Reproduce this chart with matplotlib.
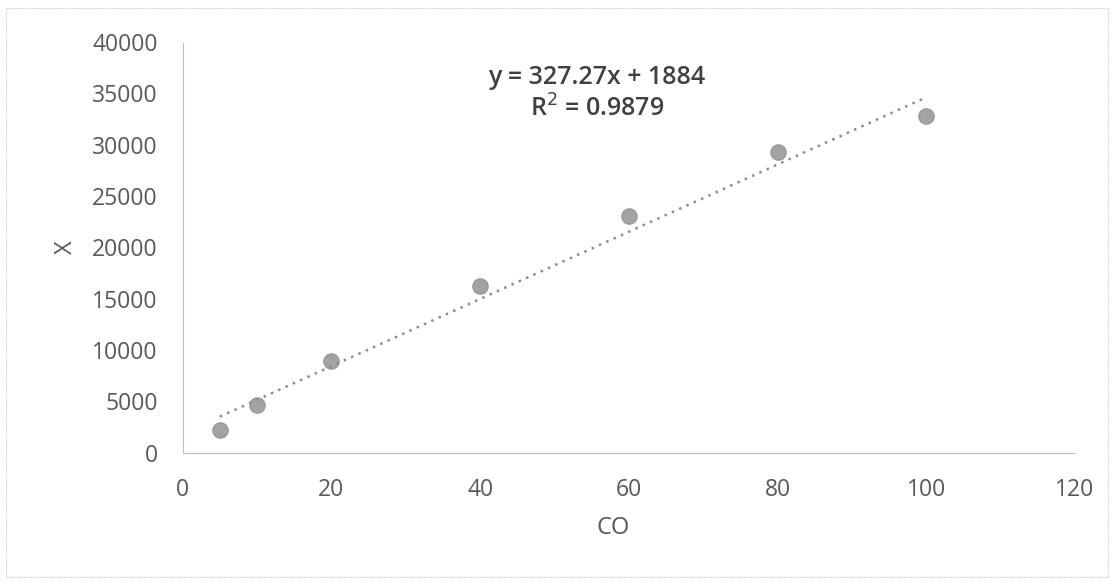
import matplotlib.pyplot as plt
from matplotlib.patches import Rectangle
import numpy as np

# data
co = [5, 10, 20, 40, 60, 80, 100]
x_vals = [2250, 4650, 8900, 16200, 23100, 29300, 32800]
slope = 327.27
intercept = 1884
eq_text = "y = 327.27x + 1884"
r2_text = "R$^2$ = 0.9879"

plt.rcParams["font.family"] = ["Open Sans", "DejaVu Sans"]
text_col = "#595959"

fig = plt.figure(figsize=(11.14, 5.82), dpi=100)
ax = fig.add_axes([0.164, 0.222, 0.801, 0.706])

# outer chart border
fig.patches.append(Rectangle((0.005, 0.008), 0.99, 0.978, transform=fig.transFigure,
                             fill=False, edgecolor="#c8c8c8", linewidth=0.8,
                             linestyle=(0, (1, 1))))

fx = np.array([co[0], co[-1]])
ax.plot(fx, slope * fx + intercept, linestyle=(0, (1, 2.2)), color="#8c8c8c",
        linewidth=1.8, zorder=3)
ax.scatter(co, x_vals, s=120, color="#a3a3a3", edgecolors="#999999", zorder=2)

ax.set_xlim(0, 120)
ax.set_ylim(0, 40000)
ax.set_xticks(range(0, 121, 20))
ax.set_yticks(range(0, 40001, 5000))
ax.tick_params(length=0, labelsize=16.5, colors=text_col)
ax.tick_params(axis="x", pad=18)
ax.tick_params(axis="y", pad=18)
for s in ["top", "right"]:
    ax.spines[s].set_visible(False)
for s in ["left", "bottom"]:
    ax.spines[s].set_color("#bfbfbf")
    ax.spines[s].set_linestyle((0, (1, 1)))
    ax.spines[s].set_linewidth(0.8)

ax.set_xlabel("CO", fontsize=17, color=text_col)
ax.xaxis.set_label_coords(0.482, -0.155)
ax.set_ylabel("X", fontsize=17, color=text_col, labelpad=10)

ax.text(0.464, 0.914, eq_text, transform=ax.transAxes, ha="center", va="center",
        fontsize=18, color="#404040", fontweight="semibold")
ax.text(0.464, 0.836, r2_text, transform=ax.transAxes, ha="center", va="center",
        fontsize=18, color="#404040", fontweight="semibold")

fig.savefig("out.png", dpi=100)
